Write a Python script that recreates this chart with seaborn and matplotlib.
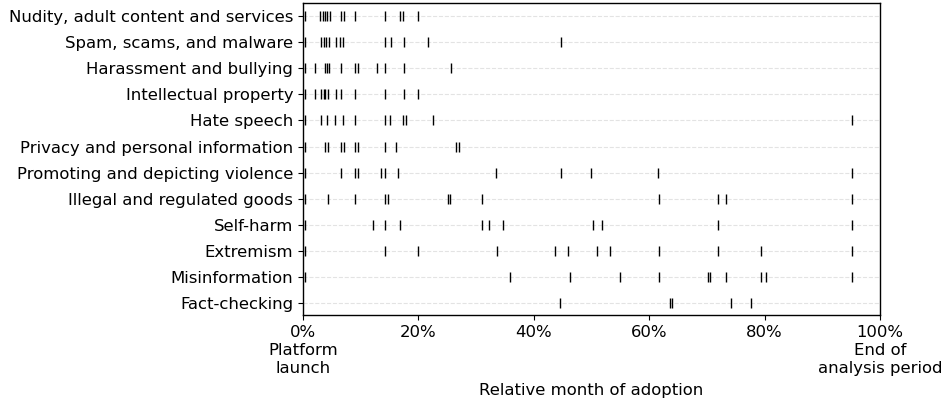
import matplotlib
matplotlib.use("Agg")
import matplotlib.pyplot as plt
import seaborn as sns
import pandas as pd

categories = [
    "Nudity, adult content and services",
    "Spam, scams, and malware",
    "Harassment and bullying",
    "Intellectual property",
    "Hate speech",
    "Privacy and personal information",
    "Promoting and depicting violence",
    "Illegal and regulated goods",
    "Self-harm",
    "Extremism",
    "Misinformation",
    "Fact-checking",
]

nudity = [0.4, 2.9, 3.4, 3.8, 4.2, 4.7, 6.6, 7.1, 9.1, 14.3, 16.9, 17.3, 19.9]
spam = [0.4, 3.2, 3.6, 4.0, 4.5, 5.8, 6.5, 7.0, 14.3, 15.2, 17.5, 21.6, 44.8]
harassment = [0.4, 2.1, 3.9, 4.2, 4.5, 6.6, 9.1, 9.6, 12.9, 14.3, 17.5, 25.6]
ip = [0.4, 2.1, 3.2, 3.6, 3.9, 4.3, 5.7, 6.6, 9.1, 14.3, 17.5, 19.9]
hate = [0.4, 3.2, 4.2, 5.6, 6.9, 9.0, 14.3, 15.1, 17.4, 17.8, 22.5, 95.2]
privacy = [0.4, 3.9, 4.3, 6.6, 7.1, 9.1, 9.6, 14.3, 16.1, 26.6, 27.0]
violence = [0.4, 6.6, 9.1, 9.6, 13.6, 14.2, 16.4, 33.4, 44.8, 50.0, 61.6, 95.2]
illegal = [0.4, 4.3, 9.1, 14.2, 14.7, 25.1, 25.5, 31.1, 61.7, 71.9, 73.4, 95.2]
selfharm = [0.4, 12.1, 14.3, 16.9, 31.1, 32.2, 34.6, 50.2, 51.8, 71.9, 95.2]
extremism = [0.4, 14.3, 19.9, 33.6, 43.7, 45.9, 51.0, 53.2, 61.7, 71.9, 79.3, 95.2]
misinfo = [0.4, 35.8, 46.3, 54.9, 61.7, 70.2, 70.6, 73.4, 79.3, 80.2, 95.2]
factcheck = [44.6, 63.6, 64.0, 74.1, 77.6]

series = [nudity, spam, harassment, ip, hate, privacy, violence, illegal,
          selfharm, extremism, misinfo, factcheck]

xticks = [0, 20, 40, 60, 80, 100]
xticklabels = ["0%\nPlatform\nlaunch", "20%", "40%", "60%", "80%",
               "100%\nEnd of\nanalysis period"]

rows = []
for cat, vals in zip(categories, series):
    for v in vals:
        rows.append({"category": cat, "pct": v})
df = pd.DataFrame(rows)

sns.set_style("white")
plt.rcParams["font.family"] = ["DejaVu Sans"]
plt.rcParams["text.color"] = "black"
plt.rcParams["axes.labelcolor"] = "black"
plt.rcParams["xtick.color"] = "black"
plt.rcParams["ytick.color"] = "black"

FS = 11.85

fig = plt.figure(figsize=(9.45, 4.05), dpi=100)
ax = fig.add_axes([0.3206, 0.2222, 0.6106, 0.7704])

sns.scatterplot(data=df, x="pct", y="category", marker="|", color="black",
                s=42, linewidth=1.0, ax=ax, legend=False, zorder=3)

ax.set_ylim(11.45, -0.5)
ax.set_xlim(0, 100)
ax.set_yticks(range(len(categories)))
ax.set_yticklabels(categories, fontsize=FS)
ax.set_xticks(xticks)
ax.set_xticklabels(xticklabels, fontsize=FS, linespacing=1.27)
ax.set_xlabel("Relative month of adoption", fontsize=FS, labelpad=5)
ax.set_ylabel("")
ax.yaxis.grid(True, linestyle="--", color="#e3e3e3", linewidth=0.8, zorder=0)
ax.xaxis.grid(False)
ax.set_axisbelow(True)
ax.tick_params(axis="both", which="major", length=3.5, width=0.8,
               color="black", labelcolor="black", left=True, bottom=True)
for sp in ax.spines.values():
    sp.set_color("black")
    sp.set_linewidth(1.0)

fig.savefig("out.png", dpi=100)
